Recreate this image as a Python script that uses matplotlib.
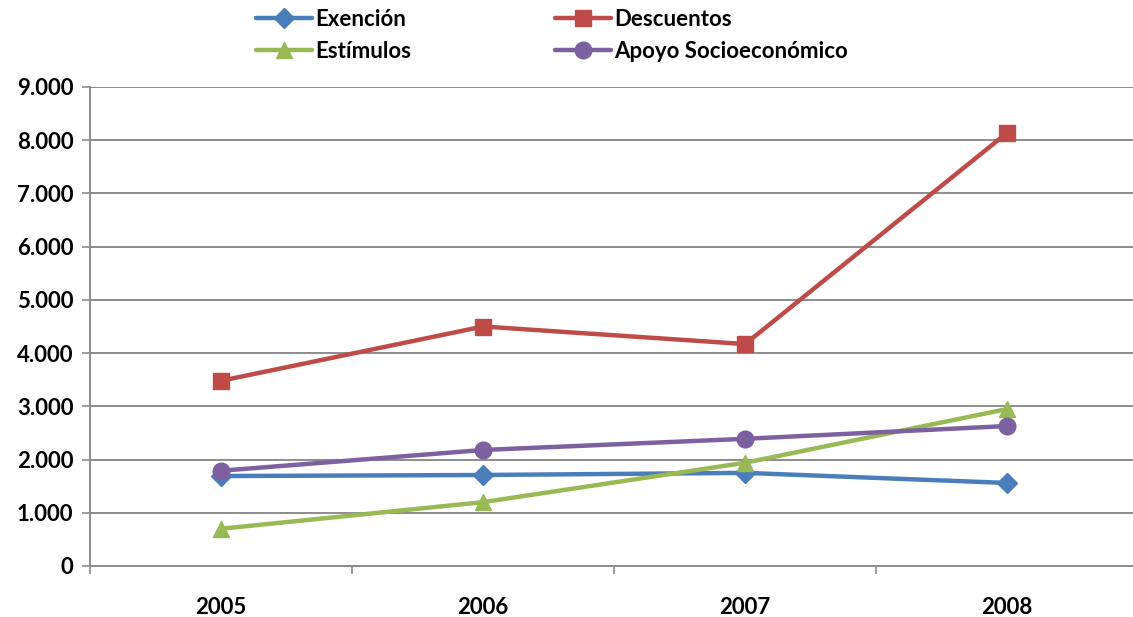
import matplotlib
matplotlib.use('Agg')
import matplotlib.pyplot as plt
import numpy as np

plt.rcParams['font.family'] = ['Lato', 'DejaVu Sans']
plt.rcParams['font.weight'] = 'bold'

years = ['2005', '2006', '2007', '2008']
exencion = [1690, 1710, 1750, 1560]
descuentos = [3480, 4500, 4170, 8140]
estimulos = [700, 1200, 1940, 2950]
apoyo = [1790, 2180, 2390, 2630]

series = [
  ('Exención', exencion, '#4A7EBB', 'D', 10),
  ('Descuentos', descuentos, '#BE4B48', 's', 11),
  ('Estímulos', estimulos, '#98B954', '^', 12),
  ('Apoyo Socioeconómico', apoyo, '#7D60A0', 'o', 12),
]

fig = plt.figure(figsize=(11.33, 6.17), dpi=100)
ax = fig.add_axes([90/1133, 51/617, 1 - 90/1133, (566-87)/617])

x = np.arange(len(years))
lines = {}
for name, vals, col, mk, ms in series:
  lines[name], = ax.plot(x, vals, color=col, lw=3.2, marker=mk, markersize=ms, label=name,
                         solid_capstyle='round')

ax.set_xlim(-0.5, 3.48)
ax.set_ylim(0, 9000)
ax.set_yticks(np.arange(0, 9001, 1000))
ax.set_yticklabels(['0'] + ['{:,}'.format(v).replace(',', '.') for v in range(1000, 9001, 1000)])
ax.yaxis.grid(True, color='#8C8C8C', lw=1.4)
ax.set_axisbelow(True)

ax.set_xticks(x)
ax.set_xticklabels(years)
ax.set_xticks(np.arange(-0.5, 3, 1), minor=True)
ax.tick_params(axis='x', which='major', length=0, pad=22, labelsize=16)
ax.tick_params(axis='x', which='minor', length=6, color='#8C8C8C', width=1.2)
ax.tick_params(axis='y', length=6, color='#8C8C8C', width=1.2, labelsize=16, pad=6)

for s in ['top', 'right']:
  ax.spines[s].set_visible(False)
ax.spines['left'].set_color('#8C8C8C')
ax.spines['bottom'].set_color('#8C8C8C')
ax.spines['left'].set_linewidth(1.4)
ax.spines['bottom'].set_linewidth(1.4)

# row-wise order like the original legend
order = ['Exención', 'Estímulos', 'Descuentos', 'Apoyo Socioeconómico']
fig.legend([lines[n] for n in order], order, loc='upper left',
           bbox_to_anchor=(236/1133, 1 + 11/617), ncol=2,
           frameon=False, handlelength=2.5, handletextpad=0.15, columnspacing=6.5,
           labelspacing=0.5, prop={'size': 16, 'weight': 'bold'})

fig.savefig('out.png', dpi=100)
